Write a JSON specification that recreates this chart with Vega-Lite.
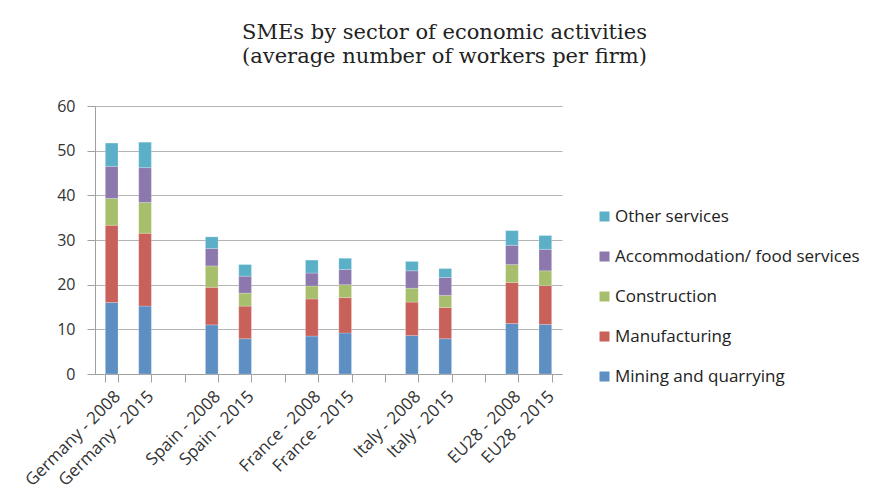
{
  "$schema": "https://vega.github.io/schema/vega-lite/v6.json",
  "width": 467,
  "height": 268,
  "autosize": "none",
  "padding": {"left": 95, "top": 106, "right": 318, "bottom": 120},
  "background": "white",
  "title": {
    "text": ["SMEs by sector of economic activities", "(average number of workers per firm)"],
    "font": "DejaVu Serif",
    "fontSize": 21,
    "fontWeight": "normal",
    "color": "#222222",
    "anchor": "middle",
    "dx": 116,
    "offset": 31,
    "lineHeight": 24
  },
  "datasets": {
    "sectors": [
      {"sector": "Mining and quarrying", "stackorder": 1},
      {"sector": "Manufacturing", "stackorder": 2},
      {"sector": "Construction", "stackorder": 3},
      {"sector": "Accommodation/ food services", "stackorder": 4},
      {"sector": "Other services", "stackorder": 5}
    ]
  },
  "data": {
    "values": [
      {"cat": "Germany - 2008", "sector": "Mining and quarrying", "value": 16.0},
      {"cat": "Germany - 2008", "sector": "Manufacturing", "value": 17.3},
      {"cat": "Germany - 2008", "sector": "Construction", "value": 6.0},
      {"cat": "Germany - 2008", "sector": "Accommodation/ food services", "value": 7.2},
      {"cat": "Germany - 2008", "sector": "Other services", "value": 5.2},
      {"cat": "Germany - 2015", "sector": "Mining and quarrying", "value": 15.2},
      {"cat": "Germany - 2015", "sector": "Manufacturing", "value": 16.3},
      {"cat": "Germany - 2015", "sector": "Construction", "value": 6.9},
      {"cat": "Germany - 2015", "sector": "Accommodation/ food services", "value": 7.8},
      {"cat": "Germany - 2015", "sector": "Other services", "value": 5.7},
      {"cat": "Spain - 2008", "sector": "Mining and quarrying", "value": 11.0},
      {"cat": "Spain - 2008", "sector": "Manufacturing", "value": 8.4},
      {"cat": "Spain - 2008", "sector": "Construction", "value": 4.8},
      {"cat": "Spain - 2008", "sector": "Accommodation/ food services", "value": 3.9},
      {"cat": "Spain - 2008", "sector": "Other services", "value": 2.6},
      {"cat": "Spain - 2015", "sector": "Mining and quarrying", "value": 7.9},
      {"cat": "Spain - 2015", "sector": "Manufacturing", "value": 7.3},
      {"cat": "Spain - 2015", "sector": "Construction", "value": 2.9},
      {"cat": "Spain - 2015", "sector": "Accommodation/ food services", "value": 3.8},
      {"cat": "Spain - 2015", "sector": "Other services", "value": 2.6},
      {"cat": "France - 2008", "sector": "Mining and quarrying", "value": 8.5},
      {"cat": "France - 2008", "sector": "Manufacturing", "value": 8.3},
      {"cat": "France - 2008", "sector": "Construction", "value": 2.9},
      {"cat": "France - 2008", "sector": "Accommodation/ food services", "value": 2.9},
      {"cat": "France - 2008", "sector": "Other services", "value": 2.9},
      {"cat": "France - 2015", "sector": "Mining and quarrying", "value": 9.2},
      {"cat": "France - 2015", "sector": "Manufacturing", "value": 7.9},
      {"cat": "France - 2015", "sector": "Construction", "value": 2.9},
      {"cat": "France - 2015", "sector": "Accommodation/ food services", "value": 3.4},
      {"cat": "France - 2015", "sector": "Other services", "value": 2.5},
      {"cat": "Italy - 2008", "sector": "Mining and quarrying", "value": 8.6},
      {"cat": "Italy - 2008", "sector": "Manufacturing", "value": 7.5},
      {"cat": "Italy - 2008", "sector": "Construction", "value": 3.1},
      {"cat": "Italy - 2008", "sector": "Accommodation/ food services", "value": 3.9},
      {"cat": "Italy - 2008", "sector": "Other services", "value": 2.1},
      {"cat": "Italy - 2015", "sector": "Mining and quarrying", "value": 7.9},
      {"cat": "Italy - 2015", "sector": "Manufacturing", "value": 7.0},
      {"cat": "Italy - 2015", "sector": "Construction", "value": 2.7},
      {"cat": "Italy - 2015", "sector": "Accommodation/ food services", "value": 4.0},
      {"cat": "Italy - 2015", "sector": "Other services", "value": 2.0},
      {"cat": "EU28 - 2008", "sector": "Mining and quarrying", "value": 11.3},
      {"cat": "EU28 - 2008", "sector": "Manufacturing", "value": 9.2},
      {"cat": "EU28 - 2008", "sector": "Construction", "value": 4.0},
      {"cat": "EU28 - 2008", "sector": "Accommodation/ food services", "value": 4.3},
      {"cat": "EU28 - 2008", "sector": "Other services", "value": 3.3},
      {"cat": "EU28 - 2015", "sector": "Mining and quarrying", "value": 11.1},
      {"cat": "EU28 - 2015", "sector": "Manufacturing", "value": 8.7},
      {"cat": "EU28 - 2015", "sector": "Construction", "value": 3.3},
      {"cat": "EU28 - 2015", "sector": "Accommodation/ food services", "value": 4.8},
      {"cat": "EU28 - 2015", "sector": "Other services", "value": 3.1}
    ]
  },
  "transform": [
    {"lookup": "sector", "from": {"data": {"name": "sectors"}, "key": "sector", "fields": ["stackorder"]}}
  ],
  "mark": {"type": "bar", "stroke": "#ffffff", "strokeOpacity": 0.35, "strokeWidth": 0.6},
  "encoding": {
    "x": {
      "field": "cat",
      "type": "nominal",
      "scale": {
        "domain": ["Germany - 2008", "Germany - 2015", " ", "Spain - 2008", "Spain - 2015", "  ", "France - 2008", "France - 2015", "   ", "Italy - 2008", "Italy - 2015", "    ", "EU28 - 2008", "EU28 - 2015"],
        "paddingInner": 0.62,
        "paddingOuter": 0.31
      },
      "axis": {
        "title": null,
        "labelAngle": -45,
        "labelFont": "Open Sans",
        "labelFontSize": 17,
        "labelColor": "#333333",
        "labelPadding": 6,
        "tickBand": "extent",
        "tickSize": 8,
        "tickColor": "#a0a0a0",
        "domainColor": "#a0a0a0",
        "grid": false
      }
    },
    "y": {
      "field": "value",
      "type": "quantitative",
      "stack": "zero",
      "scale": {"domain": [0, 60], "nice": false},
      "axis": {
        "title": null,
        "values": [0, 10, 20, 30, 40, 50, 60],
        "labelFont": "Open Sans",
        "labelFontSize": 16,
        "labelColor": "#333333",
        "labelPadding": 12,
        "tickSize": 8,
        "tickColor": "#a0a0a0",
        "domainColor": "#a0a0a0",
        "gridColor": "#b4b4b4",
        "gridWidth": 1
      }
    },
    "order": {"field": "stackorder", "type": "quantitative", "sort": "ascending"},
    "color": {
      "field": "sector",
      "type": "nominal",
      "sort": ["Mining and quarrying", "Manufacturing", "Construction", "Accommodation/ food services", "Other services"],
      "scale": {
        "range": ["#5d8fc3", "#c8615a", "#a7bf6c", "#8d78ad", "#5bb0c8"]
      },
      "legend": {
        "title": null,
        "orient": "none",
        "legendX": 501,
        "legendY": 102,
        "values": ["Other services", "Accommodation/ food services", "Construction", "Manufacturing", "Mining and quarrying"],
        "symbolType": "square",
        "symbolSize": 100,
        "symbolStrokeWidth": 0,
        "labelFont": "Open Sans",
        "labelFontSize": 17,
        "labelColor": "#222222",
        "labelLimit": 320,
        "rowPadding": 22,
        "labelOffset": 2
      }
    }
  },
  "config": {
    "view": {"stroke": null}
  }
}
